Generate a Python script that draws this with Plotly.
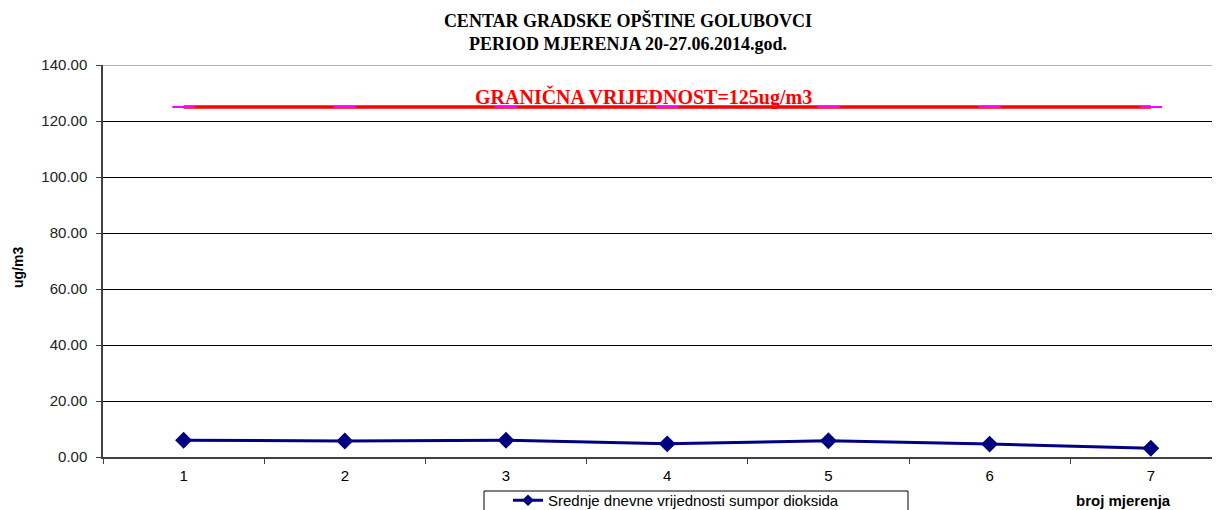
import plotly.graph_objects as go

categories = ["1", "2", "3", "4", "5", "6", "7"]
so2_values = [6.0, 5.7, 6.0, 4.7, 5.8, 4.6, 3.1]
limit_values = [125, 125, 125, 125, 125, 125, 125]
y_ticks = [0, 20, 40, 60, 80, 100, 120, 140]
y_tick_labels = ["0.00", "20.00", "40.00", "60.00", "80.00", "100.00", "120.00", "140.00"]

title_text = "CENTAR GRADSKE OPŠTINE GOLUBOVCI<br>PERIOD MJERENJA 20-27.06.2014.god."
limit_text = "GRANIČNA VRIJEDNOST=125ug/m3"
series_name = "Srednje dnevne vrijednosti sumpor dioksida"

# page body has an 8px margin; figure coordinates = reference coordinates - 8
OFF = 8
W, H = 1220 - OFF, 510 - OFF
L, T = 103 - OFF, 65 - OFF
B = H - (457 - OFF)
R = 0
pw = W - L - R
ph = H - T - B


def fx(ref_x):
    return (ref_x - OFF - L) / pw


def fy(ref_y):
    return (H - B - (ref_y - OFF)) / ph


fig = go.Figure()

# limit line (red line with magenta dash markers)
fig.add_trace(go.Scatter(
    x=categories, y=limit_values, mode="lines",
    line=dict(color="#FF0000", width=3.5),
    showlegend=False, hoverinfo="skip",
))
fig.add_trace(go.Scatter(
    x=categories, y=limit_values, mode="markers",
    marker=dict(symbol="line-ew", size=16, line=dict(color="#FF00FF", width=2)),
    showlegend=False, hoverinfo="skip",
))

fig.add_trace(go.Scatter(
    x=categories, y=so2_values, mode="lines+markers", name=series_name,
    line=dict(color="#000080", width=3),
    marker=dict(symbol="diamond", size=13, color="#000080"),
    showlegend=False,
))
# legend entry (smaller marker, as in the reference legend)
fig.add_trace(go.Scatter(
    x=[None], y=[None], mode="lines+markers", name=series_name,
    line=dict(color="#000080", width=3),
    marker=dict(symbol="diamond", size=9, color="#000080"),
    showlegend=True,
))

fig.update_layout(
    width=W, height=H,
    paper_bgcolor="white", plot_bgcolor="white",
    margin=dict(l=L, r=R, t=T, b=B, autoexpand=False),
    title=dict(
        text=title_text, x=(628 - OFF) / W, xanchor="center",
        yref="container", y=1 - (27 - OFF) / H, yanchor="middle",
        font=dict(family="Liberation Serif", size=18, color="black", weight="bold"),
    ),
    showlegend=True,
    legend=dict(
        orientation="h", x=fx(484), xanchor="left",
        y=fy(484), yanchor="top",
        borderwidth=0, bgcolor="rgba(0,0,0,0)",
        font=dict(family="Liberation Sans", size=15, color="black"),
        indentation=24,
    ),
    xaxis=dict(
        type="category", range=[-0.5, -0.5 + pw / 161.2], automargin=False,
        tickson="boundaries", ticks="outside", ticklen=5, tickcolor="#404040",
        showline=True, linecolor="#404040", linewidth=1.5,
        showgrid=False, zeroline=False, ticklabelstandoff=4,
        tickfont=dict(family="Liberation Sans", size=15, color="black"),
    ),
    yaxis=dict(
        range=[0, 140], tickmode="array", tickvals=y_ticks, ticktext=y_tick_labels,
        automargin=False,
        ticks="outside", ticklen=5, tickcolor="#404040",
        showline=True, linecolor="#404040", linewidth=1.5,
        showgrid=True, gridcolor="black", gridwidth=1, zeroline=False,
        ticklabelstandoff=6,
        tickfont=dict(family="Liberation Sans", size=15, color="#222222"),
    ),
    annotations=[
        dict(text=limit_text, x=fx(643), xref="paper", xanchor="center",
             y=125, yref="y", yanchor="bottom", yshift=-4, showarrow=False,
             font=dict(family="Liberation Serif", size=20, color="#FF0000", weight="bold")),
        dict(text="<b>broj mjerenja</b>", x=fx(1123), xref="paper", xanchor="center",
             y=fy(500), yref="paper", yanchor="middle",
             showarrow=False,
             font=dict(family="Liberation Sans", size=15, color="black")),
        dict(text="<b>ug/m3</b>", x=fx(18), xref="paper", y=fy(268), yref="paper",
             textangle=-90, showarrow=False, xanchor="center", yanchor="middle",
             font=dict(family="Liberation Sans", size=14, color="black")),
    ],
    shapes=[
        dict(type="line", xref="paper", yref="y", x0=0, x1=1, y0=140, y1=140,
             line=dict(color="#9a9a9a", width=1.5)),
        # legend frame
        dict(type="rect", xref="paper", yref="paper",
             x0=fx(484), x1=fx(908), y0=fy(491), y1=fy(520),
             line=dict(color="black", width=1), fillcolor="rgba(0,0,0,0)",
             layer="below"),
    ],
)

fig.write_html("out.html")
